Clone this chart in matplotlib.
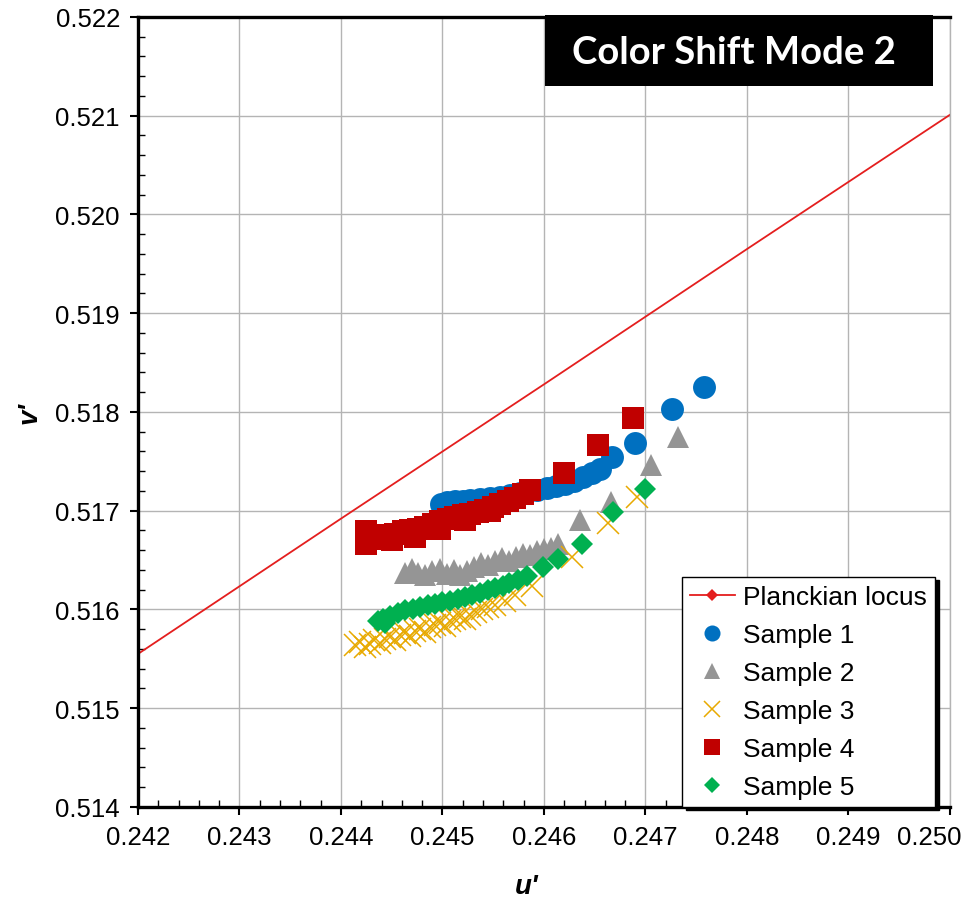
import numpy as np
import matplotlib.pyplot as plt
import matplotlib.transforms as mtransforms
from matplotlib.lines import Line2D
from matplotlib.patches import Rectangle
from matplotlib.ticker import MultipleLocator, FormatStrFormatter

plt.rcParams['font.family'] = ['Liberation Sans', 'DejaVu Sans']

x_ticks = [0.242, 0.243, 0.244, 0.245, 0.246, 0.247, 0.248, 0.249, 0.250]
y_ticks = [0.514, 0.515, 0.516, 0.517, 0.518, 0.519, 0.520, 0.521, 0.522]

# Planckian locus (straight segment across the view)
u_planck = [0.242, 0.244, 0.246, 0.248, 0.250]
v_planck = [0.51555, 0.51692, 0.51828, 0.51965, 0.52101]

# Sample 1
u1 = [0.24499, 0.24504, 0.24512, 0.24520, 0.24527, 0.24537, 0.24547, 0.24557, 0.24567, 0.24576,
      0.24584, 0.24593, 0.24603, 0.24612, 0.24621, 0.24630, 0.24638, 0.24647, 0.24655, 0.24667,
      0.24690, 0.24726, 0.24758]
v1 = [0.51707, 0.51709, 0.51710, 0.51710, 0.51711, 0.51712, 0.51713, 0.51714, 0.51716, 0.51718,
      0.51720, 0.51721, 0.51723, 0.51725, 0.51727, 0.51730, 0.51734, 0.51738, 0.51742, 0.51754,
      0.51769, 0.51803, 0.51825]

# Sample 2
u2 = [0.24463, 0.24470, 0.24476, 0.24483, 0.24490, 0.24498, 0.24504, 0.24511, 0.24517, 0.24524,
      0.24531, 0.24538, 0.24545, 0.24552, 0.24559, 0.24566, 0.24572, 0.24579, 0.24586, 0.24593,
      0.24600, 0.24607, 0.24614, 0.24635, 0.24666, 0.24705, 0.24732]
v2 = [0.51637, 0.51641, 0.51637, 0.51635, 0.51639, 0.51641, 0.51636, 0.51640, 0.51635, 0.51639,
      0.51643, 0.51647, 0.51645, 0.51649, 0.51652, 0.51649, 0.51653, 0.51656, 0.51655, 0.51659,
      0.51661, 0.51662, 0.51666, 0.51691, 0.51709, 0.51746, 0.51775]

# Sample 3
u3 = [0.24414, 0.24419, 0.24424, 0.24429, 0.24433, 0.24438, 0.24443, 0.24448, 0.24453, 0.24458,
      0.24463, 0.24468, 0.24473, 0.24478, 0.24483, 0.24488, 0.24493, 0.24498, 0.24502, 0.24507,
      0.24512, 0.24517, 0.24522, 0.24527, 0.24533, 0.24539, 0.24545, 0.24552, 0.24562, 0.24571,
      0.24588, 0.24628, 0.24663, 0.24692]
v3 = [0.51564, 0.51567, 0.51562, 0.51565, 0.51569, 0.51566, 0.51570, 0.51572, 0.51569, 0.51574,
      0.51576, 0.51573, 0.51578, 0.51580, 0.51577, 0.51582, 0.51584, 0.51586, 0.51583, 0.51588,
      0.51590, 0.51592, 0.51590, 0.51594, 0.51597, 0.51600, 0.51603, 0.51605, 0.51609, 0.51615,
      0.51624, 0.51653, 0.51688, 0.51714]

# Sample 4
u4 = [0.24425, 0.24425, 0.24431, 0.24438, 0.24446, 0.24450, 0.24453, 0.24461, 0.24468, 0.24473,
      0.24476, 0.24483, 0.24491, 0.24498, 0.24498, 0.24505, 0.24512, 0.24520, 0.24522, 0.24527,
      0.24535, 0.24542, 0.24547, 0.24550, 0.24557, 0.24565, 0.24571, 0.24579, 0.24586, 0.24620,
      0.24653, 0.24688]
v4 = [0.51666, 0.51679, 0.51671, 0.51673, 0.51675, 0.51670, 0.51676, 0.51679, 0.51680, 0.51673,
      0.51682, 0.51684, 0.51687, 0.51690, 0.51682, 0.51692, 0.51694, 0.51696, 0.51691, 0.51697,
      0.51699, 0.51701, 0.51700, 0.51704, 0.51707, 0.51710, 0.51713, 0.51717, 0.51721, 0.51738,
      0.51767, 0.51794]

# Sample 5
u5 = [0.24436, 0.24441, 0.24443, 0.24448, 0.24456, 0.24463, 0.24471, 0.24478, 0.24486, 0.24493,
      0.24500, 0.24507, 0.24515, 0.24522, 0.24529, 0.24537, 0.24545, 0.24552, 0.24560, 0.24566,
      0.24574, 0.24583, 0.24599, 0.24614, 0.24637, 0.24668, 0.24700]
v5 = [0.51588, 0.51590, 0.51586, 0.51593, 0.51596, 0.51599, 0.51601, 0.51603, 0.51605, 0.51606,
      0.51608, 0.51609, 0.51611, 0.51613, 0.51615, 0.51617, 0.51620, 0.51622, 0.51624, 0.51627,
      0.51630, 0.51634, 0.51643, 0.51651, 0.51666, 0.51699, 0.51722]

fig = plt.figure(figsize=(9.67, 9.04), dpi=100)
ax = fig.add_axes([0.1427, 0.1062, 0.8397, 0.8739])

ax.plot(u_planck, v_planck, color='#e41e1e', lw=1.3, zorder=2)
h1, = ax.plot(u1, v1, 'o', color='#0070c0', ms=16.5, mew=0, label='Sample 1', zorder=3)
h2, = ax.plot(u2, v2, '^', color='#959595', ms=16.5, mew=0, label='Sample 2', zorder=3)
h3, = ax.plot(u3, v3, 'x', color='#e8a900', ms=16, mew=1.1, label='Sample 3', zorder=3)
h4, = ax.plot(u4, v4, 's', color='#c00000', ms=16.5, mew=0, label='Sample 4', zorder=3)
h5, = ax.plot(u5, v5, 'D', color='#00b050', ms=11.5, mew=0, label='Sample 5', zorder=3)

ax.set_xlim(0.242, 0.250)
ax.set_ylim(0.514, 0.522)
ax.set_xticks(x_ticks)
ax.set_yticks(y_ticks)
ax.xaxis.set_minor_locator(MultipleLocator(0.0002))
ax.yaxis.set_minor_locator(MultipleLocator(0.0002))
ax.xaxis.set_major_formatter(FormatStrFormatter('%.3f'))
ax.yaxis.set_major_formatter(FormatStrFormatter('%.3f'))
ax.tick_params(which='major', direction='out', length=6, width=1.5, labelsize=18.5, pad=7)
ax.tick_params(which='minor', direction='in', length=5, width=1)
ax.grid(which='major', color='#b4b4b4', lw=1)
ax.set_axisbelow(True)

# last x label pulled inside the figure, as in the original
last = ax.get_xticklabels()[-1]
last.set_horizontalalignment('right')
last.set_transform(last.get_transform() +
                   mtransforms.ScaledTranslation(0.12, 0, fig.dpi_scale_trans))

for side in ['left', 'bottom', 'top']:
    ax.spines[side].set_linewidth(2.4)
ax.spines['right'].set_linewidth(1)
ax.spines['right'].set_color('#b4b4b4')

ax.set_xlabel("u'", fontsize=20, fontweight='bold', fontstyle='italic')
ax.set_ylabel("v'", fontsize=20, fontweight='bold', fontstyle='italic')
ax.xaxis.set_label_coords(0.479, -0.083)
ax.yaxis.set_label_coords(-0.118, 0.5)

# title box
ax.add_patch(Rectangle((0.501, 0.9127), 0.478, 0.0893, transform=ax.transAxes,
                       facecolor='black', edgecolor='none', zorder=5, clip_on=False))
ax.text(0.734, 0.9563, 'Color Shift Mode 2', transform=ax.transAxes, color='white',
        fontsize=27.5, fontweight='bold', family='Lato', ha='center', va='center', zorder=6)

planck_handle = Line2D([], [], color='#e41e1e', lw=1.3, marker='D', ms=9, mew=0,
                       label='Planckian locus')
leg = ax.legend(handles=[planck_handle, h1, h2, h3, h4, h5], loc='lower right',
                bbox_to_anchor=(0.981, 0.0), borderaxespad=0, fontsize=19,
                markerscale=0.7, fancybox=False, framealpha=1, edgecolor='black',
                labelspacing=0.53, handlelength=1.7, handletextpad=0.3, borderpad=0.3,
                shadow={'ox': 3, 'oy': -2, 'color': 'black', 'alpha': 1})
leg.get_frame().set_linewidth(1)
leg.set_zorder(7)

fig.savefig('out.png', dpi=100)
